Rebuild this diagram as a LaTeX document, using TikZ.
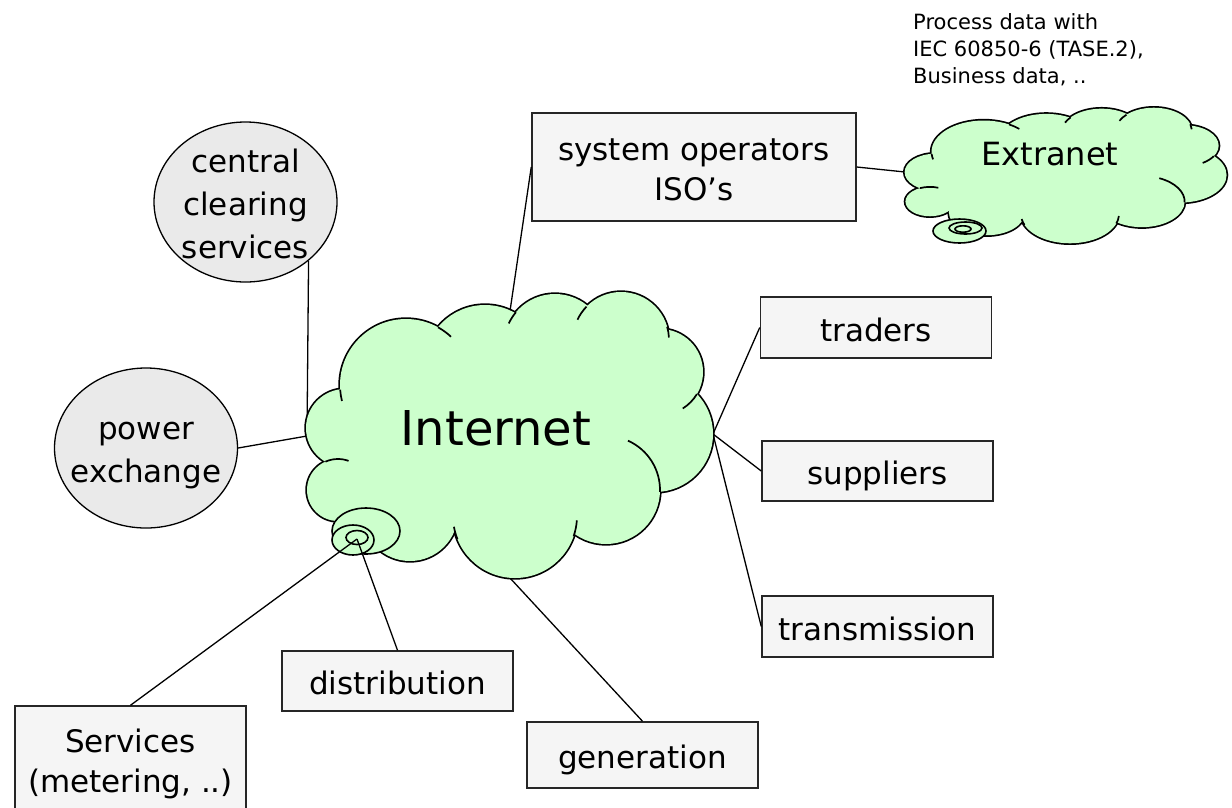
\documentclass[tikz,border=0pt]{standalone}
\usepackage{fontspec}
\setmainfont{DejaVu Sans}
\usepackage{xcolor}
\usepackage{tikz}
\usetikzlibrary{shapes.geometric}

\definecolor{cloudgreen}{HTML}{CCFFCC}
\definecolor{ovalgray}{HTML}{EAEAEA}
\definecolor{boxgray}{HTML}{F5F5F5}

\newcommand{\boxfont}{\fontsize{31}{40}\selectfont}
\newcommand{\ovalfont}{\fontsize{31}{43}\selectfont}
\newcommand{\tstrut}{\rule[-6pt]{0pt}{39pt}}
% puffs of the cloud: x/y/radius, around its centre
\newcommand{\cloudpuffs}{-172/55/31, -165/-7/39, -104/-50/66, -25/-69/61, 45/-90/51, 111/-95/48, 150/-63/43, 145/-1/58, 96/55/54, 5/81/62, -100/78/48}

\tikzset{
  party/.style={draw=black!85, line width=1.5pt, fill=boxgray, inner sep=0pt,
    minimum width=231pt, minimum height=60pt, align=center, font=\boxfont},
  market/.style={ellipse, draw, line width=1.3pt, fill=ovalgray, inner sep=0pt,
    minimum width=183pt, minimum height=160pt},
  link/.style={line width=1.3pt},
  puff/.style={line width=1.6pt, fill=cloudgreen},
  cloudbody/.pic={
    % outline of every puff, then fill over the inner half
    \foreach \cx/\cy/\r in \cloudpuffs
      \draw[line width=3.4pt, fill=cloudgreen] (\cx,\cy) circle[radius=\r];
    \foreach \cx/\cy/\r in \cloudpuffs
      \fill[cloudgreen] (\cx,\cy) circle[radius=\r];
    \fill[cloudgreen] (0,0) ellipse[x radius=150, y radius=100];
    \fill[cloudgreen] (-140,45) circle[radius=30];
    % short arcs running into the cloud
    \foreach \cx/\cy/\r/\a/\b in {-104/-50/66/-61/-47, -104/-50/66/176/166,
        45/-90/51/-140/-155, 111/-95/48/-136/-155, 111/-95/48/-16/-3,
        150/-63/43/31/58, 96/55/54/-66/2, 5/81/62/19/4, 5/81/62/158/170,
        -172/55/31/-114/-70}
      \draw[line width=1.7pt] (\cx,\cy) ++(\a:\r) arc[start angle=\a, end angle=\b, radius=\r];
  }
}

\begin{document}
\begin{tikzpicture}[x=1pt, y=-1pt]
  \path[use as bounding box, fill=white] (0,0) rectangle (1232,807);
  \clip (0,0) rectangle (1232,807);

  % markets
  \node[market, label={[align=center, font=\ovalfont]center:{\tstrut central\\\tstrut clearing\\\tstrut services}}] (ccs) at (245.5,202) {};
  \node[market, label={[align=center, font=\ovalfont]center:{\tstrut power\\\tstrut exchange}}] (pwx) at (146,448) {};

  % parties
  \node[party, minimum width=324pt, minimum height=108pt] (sysop) at (694,167) {\tstrut system operators\\\tstrut ISO's};
  \node[party, minimum height=61pt] (traders) at (876,327.5) {\tstrut traders};
  \node[party] (suppliers) at (877.5,471) {\tstrut suppliers};
  \node[party, minimum height=61pt] (transmission) at (877.5,626.5) {\tstrut transmission};
  \node[party] (distribution) at (397.5,681) {\tstrut distribution};
  \node[party, minimum height=66pt] (generation) at (642.5,755) {\tstrut generation};
  \node[party, minimum height=107pt] (srv) at (130.5,759.5) {\tstrut Services\\\tstrut (metering, ..)};

  \node[anchor=north west, inner sep=0pt, align=left, font=\fontsize{21}{27}\selectfont] (note) at (913,13)
    {Process data with\\IEC 60850-6 (TASE.2),\\Business data, ..};

  % points on the cloud border
  \coordinate (netW) at (307,436);
  \coordinate (netN) at (510,311);
  \coordinate (netE) at (713,434);
  \coordinate (netS) at (510,578);
  \coordinate (netTail) at (357,539);
  \coordinate (extW) at (905,172);

  \draw[link] (ccs.-43) -- (netW);
  \draw[link] (pwx.east) -- (netW);
  \draw[link] (netN) -- (sysop.west);
  \draw[link] (sysop.east) -- (extW);
  \draw[link] (netE) -- (traders.west);
  \draw[link] (netE) -- (suppliers.west);
  \draw[link] (netE) -- (transmission.west);
  \draw[link] (netS) -- (generation.north);

  % clouds
  \pic at (510,435) {cloudbody};
  \pic[xscale=0.791, yscale=0.474] at (1066,175.5) {cloudbody};
  \node[anchor=base, font=\fontsize{48}{48}\selectfont] (net) at (496,445) {Internet};
  \node[anchor=base, font=\fontsize{32}{40}\selectfont] (ext) at (1050,165) {Extranet};

  % bubble tails
  \draw[puff] (366,531) ellipse[x radius=34, y radius=23];
  \draw[puff] (353,540) ellipse[x radius=21, y radius=15];
  \draw[puff] (357,537.5) ellipse[x radius=11, y radius=7];
  \draw[puff] (959.5,231) ellipse[x radius=26.5, y radius=12];
  \draw[puff] (965.5,228) ellipse[x radius=16.5, y radius=6];
  \draw[puff] (963,229) ellipse[x radius=8, y radius=3.2];

  \draw[link] (netTail) -- (distribution.north);
  \draw[link] (netTail) -- (srv.north);
\end{tikzpicture}
\end{document}
